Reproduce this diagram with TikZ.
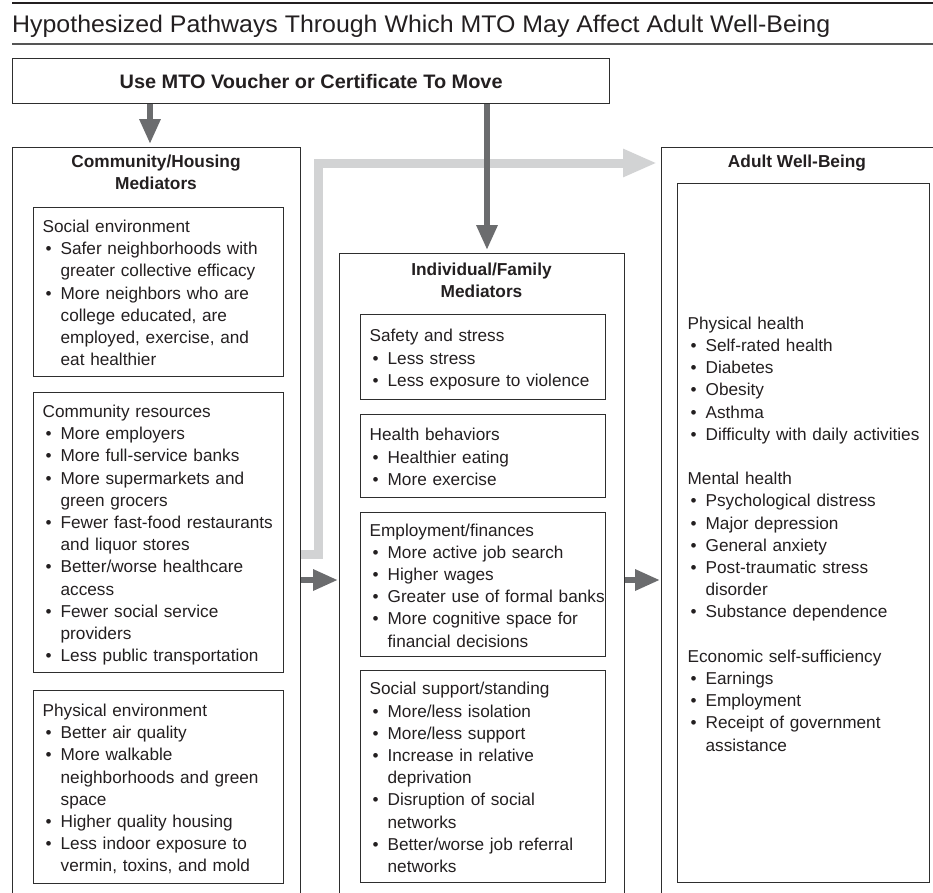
\documentclass[tikz,border=0pt]{standalone}
\usepackage{fontspec}
\setmainfont{Liberation Sans}
\usetikzlibrary{arrows.meta,calc}
\definecolor{txtc}{HTML}{231F20}
\definecolor{boxc}{HTML}{2E2E2E}
\definecolor{darkarr}{HTML}{6B6C6E}
\definecolor{lightarr}{HTML}{D2D3D4}
\definecolor{rulec}{HTML}{555555}
\newcommand{\bodysize}{\fontsize{17.2}{22.2}\selectfont}
\newcommand{\hdrsize}{\fontsize{17.3}{22}\selectfont\bfseries}
\newcommand{\bu}{\hspace*{3pt}\makebox[15pt][l]{\textbullet}}
\newcommand{\cn}{\hspace*{18pt}}
\newcommand{\boxlines}[1]{\raisebox{-2.5pt}[\height][\depth]{\begin{tabular}{@{}l@{}}#1\end{tabular}}}
\begin{document}
\begin{tikzpicture}[x=1pt,y=-1pt,
  ibox/.style={draw=boxc, line width=1.3pt, anchor=north west, inner xsep=9pt,
    inner ysep=0pt, align=left, font=\bodysize, text=txtc},
  obox/.style={draw=boxc, line width=1.2pt, anchor=north west, inner sep=0pt},
  hdr/.style={align=center, font=\hdrsize, text=txtc, inner sep=0pt},
  darr/.style={draw=darkarr, line width=6pt, -{Triangle[length=25pt,width=20pt]}},
  garr/.style={draw=lightarr, line width=9pt, -{Triangle[length=34pt,width=26pt]}}]
\useasboundingbox (0,0) rectangle (933,892);
\clip (0,0) rectangle (933,892);

% title and rules
\coordinate (r1a) at (12,3); \coordinate (r1b) at (933,3);
\coordinate (r2a) at (12,44); \coordinate (r2b) at (933,44);
\draw[line width=2pt, txtc] (r1a) -- (r1b);
\draw[line width=1.5pt, rulec] (r2a) -- (r2b);
\node[anchor=base west, inner sep=0pt, text=txtc] (title) at (12,32)
  {\resizebox{818pt}{\height}{\fontsize{24}{28}\selectfont Hypothesized Pathways Through Which MTO May Affect Adult Well-Being}};

% top box
\node[obox, line width=1.3pt, minimum width=597pt, minimum height=45pt, text=txtc] (top) at (12,58)
  {\resizebox{383pt}{\height}{\fontsize{19.5}{22}\selectfont\bfseries Use MTO Voucher or Certificate To Move}};

% outer boxes
\node[obox, minimum width=288pt, minimum height=780pt] (lo) at (12,147) {};
\node[obox, minimum width=285pt, minimum height=700pt] (mo) at (339,253) {};
\node[obox, minimum width=276pt, minimum height=780pt] (ro) at (661,147) {};

\node[hdr] (loh) at (156,172) {Community/Housing\\Mediators};
\node[hdr] (moh) at (481.5,280) {Individual/Family\\Mediators};
\node[hdr, anchor=base] (roh) at (797,167.5) {Adult Well-Being};

% gray pathway arrow
\coordinate (g1) at (318,554);
\coordinate (g2) at (318,163);
\draw[garr, shorten >=4pt] (lo.east |- g1) -- (g1) -- (g2) -- (ro.west |- g2);

% dark arrows
\coordinate (c1) at (150,0);
\coordinate (c2) at (487,0);
\coordinate (c3) at (0,580);
\draw[darr, shorten >=3pt] (top.south -| c1) -- (lo.north -| c1);
\draw[darr, shorten >=3pt] (top.south -| c2) -- (mo.north -| c2);
\draw[darr, shorten >=1pt] (lo.east |- c3) -- (mo.west |- c3);
\draw[darr, shorten >=1pt] (mo.east |- c3) -- (ro.west |- c3);

% left inner boxes
\node[ibox, minimum width=250pt, minimum height=169pt, text width=232pt] (lb1) at (33,207)
 {\boxlines{Social environment\\
  \bu Safer neighborhoods with\\
  \cn greater collective efficacy\\
  \bu More neighbors who are\\
  \cn college educated, are\\
  \cn employed, exercise, and\\
  \cn eat healthier}};
\node[ibox, minimum width=250pt, minimum height=280pt, text width=232pt] (lb2) at (33,392)
 {\boxlines{Community resources\\
  \bu More employers\\
  \bu More full-service banks\\
  \bu More supermarkets and\\
  \cn green grocers\\
  \bu Fewer fast-food restaurants\\
  \cn and liquor stores\\
  \bu Better/worse healthcare\\
  \cn access\\
  \bu Fewer social service\\
  \cn providers\\
  \bu Less public transportation}};
\node[ibox, minimum width=250pt, minimum height=193pt, text width=232pt] (lb3) at (33,690)
 {\boxlines{Physical environment\\
  \bu Better air quality\\
  \bu More walkable\\
  \cn neighborhoods and green\\
  \cn space\\
  \bu Higher quality housing\\
  \bu Less indoor exposure to\\
  \cn vermin, toxins, and mold}};

% middle inner boxes
\node[ibox, minimum width=245pt, minimum height=85pt, text width=227pt] (mb1) at (360,314)
 {\boxlines{Safety and stress\\
  \bu Less stress\\
  \bu Less exposure to violence}};
\node[ibox, minimum width=245pt, minimum height=83pt, text width=227pt] (mb2) at (360,414)
 {\boxlines{Health behaviors\\
  \bu Healthier eating\\
  \bu More exercise}};
\node[ibox, minimum width=245pt, minimum height=144pt, text width=227pt] (mb3) at (360,512)
 {\boxlines{Employment/finances\\
  \bu More active job search\\
  \bu Higher wages\\
  \bu Greater use of formal banks\\
  \bu More cognitive space for\\
  \cn financial decisions}};
\node[ibox, minimum width=245pt, minimum height=212pt, text width=227pt] (mb4) at (360,670)
 {\boxlines{Social support/standing\\
  \bu More/less isolation\\
  \bu More/less support\\
  \bu Increase in relative\\
  \cn deprivation\\
  \bu Disruption of social\\
  \cn networks\\
  \bu Better/worse job referral\\
  \cn networks}};

% right inner box
\node[ibox, inner xsep=10pt, minimum width=252pt, minimum height=699pt, text width=232pt] (rb) at (677,183)
 {\boxlines{Physical health\\
  \bu Self-rated health\\
  \bu Diabetes\\
  \bu Obesity\\
  \bu Asthma\\
  \bu Difficulty with daily activities\\
  \\
  Mental health\\
  \bu Psychological distress\\
  \bu Major depression\\
  \bu General anxiety\\
  \bu Post-traumatic stress\\
  \cn disorder\\
  \bu Substance dependence\\
  \\
  Economic self-sufficiency\\
  \bu Earnings\\
  \bu Employment\\
  \bu Receipt of government\\
  \cn assistance}};
\end{tikzpicture}
\end{document}
